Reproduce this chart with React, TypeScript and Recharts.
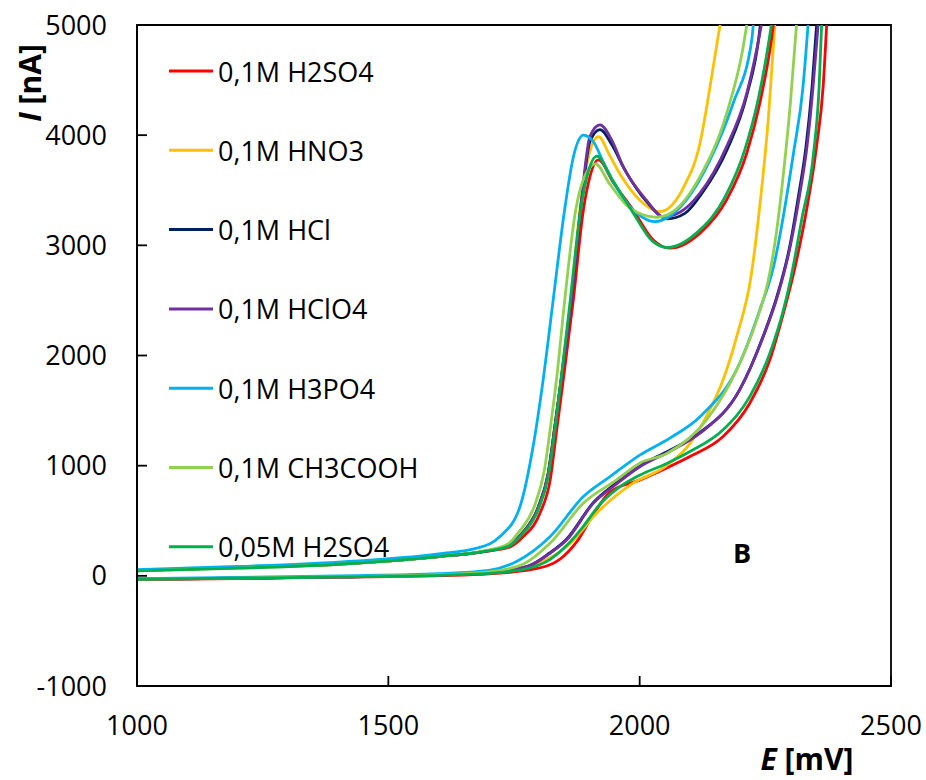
import React from "react";
import { LineChart, Line, XAxis, YAxis, ReferenceArea } from "recharts";

type Pt = [number, number];

// Potential ticks (mV) and current ticks (nA)
const X_TICKS = [1000, 1500, 2000, 2500];
const Y_TICKS = [-1000, 0, 1000, 2000, 3000, 4000, 5000];

// 0,1M H2SO4
const H2SO4_FWD: Pt[] = [[1000,-35],[1200,-25],[1400,-12],[1600,2],[1700,18],[1788,60],[1841,150],[1875,310],[1908,560],[1941,760],[2001,871],[2054,980],[2100,1083],[2166,1264],[2219,1567],[2259,1960],[2286,2384],[2309,2800],[2332,3320],[2352,3900],[2365,4440],[2372,5000]];
const H2SO4_REV: Pt[] = [[1000,50],[1200,75],[1400,105],[1600,175],[1688,218],[1742,263],[1768,354],[1802,572],[1822,871],[1835,1325],[1848,1779],[1868,2505],[1888,3321],[1898,3566],[1918,3775],[1948,3566],[1987,3321],[2027,3049],[2060,2974],[2120,3110],[2173,3412],[2213,3836],[2239,4290],[2262,4864],[2266,5000]];

// 0,1M HNO3
const HNO3_FWD: Pt[] = [[1000,-30],[1200,-20],[1400,-8],[1600,8],[1700,28],[1790,100],[1855,266],[1921,599],[1987,841],[2050,990],[2100,1200],[2133,1450],[2166,1779],[2193,2172],[2222,2730],[2240,3400],[2256,4150],[2269,5000]];
const HNO3_REV: Pt[] = [[1000,50],[1200,75],[1400,108],[1600,175],[1688,220],[1740,275],[1765,380],[1798,620],[1818,930],[1832,1380],[1845,1820],[1863,2505],[1882,3350],[1898,3800],[1918,3987],[1940,3820],[1960,3654],[2000,3412],[2040,3306],[2088,3533],[2120,3926],[2140,4440],[2156,4894],[2160,5000]];

// 0,1M HCl
const HCL_FWD: Pt[] = [[1000,-30],[1200,-22],[1400,-10],[1600,8],[1700,28],[1780,92],[1820,205],[1855,335],[1908,665],[1950,830],[2001,1000],[2060,1140],[2120,1300],[2199,1690],[2246,2180],[2274,2550],[2299,3000],[2316,3450],[2331,3900],[2343,4440],[2352,5000]];
const HCL_REV: Pt[] = [[1000,50],[1200,75],[1400,108],[1600,175],[1688,220],[1740,275],[1765,380],[1798,620],[1818,930],[1832,1380],[1845,1820],[1864,2505],[1884,3380],[1901,3940],[1921,4050],[1945,3910],[1970,3690],[2015,3390],[2055,3240],[2090,3290],[2125,3480],[2175,3880],[2213,4360],[2238,4920],[2240,5000]];

// 0,1M HClO4
const HCLO4_FWD: Pt[] = [[1000,-30],[1200,-22],[1400,-10],[1600,8],[1700,28],[1780,90],[1820,200],[1855,327],[1908,660],[1950,820],[2001,992],[2060,1130],[2120,1294],[2199,1688],[2246,2172],[2275,2550],[2300,3000],[2318,3450],[2333,3900],[2345,4440],[2355,5000]];
const HCLO4_REV: Pt[] = [[1000,50],[1200,75],[1400,108],[1600,175],[1688,220],[1740,275],[1765,380],[1798,620],[1818,930],[1832,1380],[1845,1820],[1864,2505],[1884,3400],[1901,3987],[1921,4093],[1945,3950],[1967,3716],[2013,3412],[2047,3260],[2080,3300],[2120,3473],[2173,3896],[2213,4380],[2239,4924],[2242,5000]];

// 0,1M H3PO4
const H3PO4_FWD: Pt[] = [[1000,-25],[1200,-15],[1400,0],[1600,20],[1700,50],[1755,130],[1822,357],[1888,720],[1941,901],[2001,1098],[2060,1250],[2120,1445],[2199,1930],[2239,2414],[2266,2800],[2306,3836],[2325,4440],[2335,5000]];
const H3PO4_REV: Pt[] = [[1000,55],[1200,85],[1400,125],[1600,200],[1676,251],[1722,357],[1762,629],[1788,1173],[1808,1779],[1828,2505],[1850,3300],[1868,3800],[1888,4000],[1908,3940],[1930,3730],[1960,3480],[1995,3290],[2030,3215],[2093,3412],[2140,3775],[2186,4290],[2223,4864],[2226,5000]];

// 0,1M CH3COOH
const CH3COOH_FWD: Pt[] = [[1000,-30],[1200,-20],[1400,-8],[1600,10],[1700,35],[1770,110],[1822,297],[1888,660],[1954,871],[2001,1025],[2054,1110],[2133,1416],[2193,1869],[2233,2323],[2256,2686],[2270,3050],[2286,3650],[2300,4300],[2312,5000]];
const CH3COOH_REV: Pt[] = [[1000,45],[1200,70],[1400,105],[1600,175],[1688,225],[1738,290],[1760,400],[1792,650],[1810,950],[1824,1400],[1835,1800],[1851,2505],[1872,3300],[1890,3620],[1912,3740],[1940,3560],[1980,3340],[2034,3255],[2080,3360],[2120,3624],[2173,4198],[2206,4803],[2213,5000]];

// 0,05M H2SO4
const H2SO4_005_FWD: Pt[] = [[1000,-30],[1200,-22],[1400,-10],[1600,5],[1700,22],[1780,70],[1822,150],[1860,300],[1888,450],[1921,650],[1955,790],[2001,916],[2054,1020],[2100,1128],[2166,1325],[2219,1627],[2259,2021],[2286,2414],[2300,2686],[2323,3250],[2346,3836],[2357,4440],[2362,5000]];
const H2SO4_005_REV: Pt[] = [[1000,45],[1200,70],[1400,105],[1600,175],[1688,220],[1740,270],[1765,370],[1798,600],[1818,900],[1832,1350],[1844,1800],[1862,2505],[1882,3300],[1895,3620],[1915,3810],[1945,3600],[1985,3310],[2025,3040],[2055,2980],[2115,3120],[2170,3440],[2210,3880],[2236,4330],[2258,4880],[2262,5000]];

const SERIES_NAMES = ["0,1M H2SO4", "0,1M HNO3", "0,1M HCl", "0,1M HClO4", "0,1M H3PO4", "0,1M CH3COOH", "0,05M H2SO4"];
const SERIES_COLORS = ["#FF0000", "#FFC000", "#002060", "#7030A0", "#00B0F0", "#92D050", "#00B050"];
const SERIES_FWD = [H2SO4_FWD, HNO3_FWD, HCL_FWD, HCLO4_FWD, H3PO4_FWD, CH3COOH_FWD, H2SO4_005_FWD];
const SERIES_REV = [H2SO4_REV, HNO3_REV, HCL_REV, HCLO4_REV, H3PO4_REV, CH3COOH_REV, H2SO4_005_REV];

const FONT = "'Open Sans', 'Noto Sans', sans-serif";

const toObj = (pts: Pt[]) => pts.map(([x, y]) => ({ x, y }));

export default function App() {
  return (
    <div style={{ position: "absolute", left: 0, top: 0, width: 926, height: 780, background: "#fff", fontFamily: FONT }}>
      <LineChart width={926} height={780} margin={{ top: 25, right: 35, left: 77, bottom: 64 }}>
        <XAxis
          dataKey="x"
          type="number"
          domain={[1000, 2500]}
          ticks={X_TICKS}
          allowDataOverflow
          height={30}
          tickSize={-10}
          tickMargin={40}
          axisLine={{ stroke: "#000", strokeWidth: 1.8 }}
          tickLine={{ stroke: "#000", strokeWidth: 1.8 }}
          tick={{ fill: "#000", fontSize: 27, fontFamily: FONT }}
        />
        <YAxis
          dataKey="y"
          type="number"
          domain={[-1000, 5000]}
          ticks={Y_TICKS}
          allowDataOverflow
          width={60}
          tickSize={-10}
          tickMargin={40}
          axisLine={{ stroke: "#000", strokeWidth: 1.8 }}
          tickLine={{ stroke: "#000", strokeWidth: 1.8 }}
          tick={{ fill: "#000", fontSize: 27, fontFamily: FONT }}
        />
        <ReferenceArea x1={1000} x2={2500} y1={-1000} y2={5000} fill="none" stroke="#000" strokeWidth={1.8} fillOpacity={0} />
        {SERIES_NAMES.map((name, i) => (
          <Line
            key={name + "-f"}
            data={toObj(SERIES_FWD[i])}
            dataKey="y"
            name={name}
            type="monotone"
            stroke={SERIES_COLORS[i]}
            strokeWidth={2.8}
            dot={false}
            activeDot={false}
            isAnimationActive={false}
            legendType="none"
          />
        ))}
        {SERIES_NAMES.map((name, i) => (
          <Line
            key={name + "-r"}
            data={toObj(SERIES_REV[i])}
            dataKey="y"
            name={name + " "}
            type="monotone"
            stroke={SERIES_COLORS[i]}
            strokeWidth={2.8}
            dot={false}
            activeDot={false}
            isAnimationActive={false}
            legendType="none"
          />
        ))}
      </LineChart>
      <svg width={926} height={780} style={{ position: "absolute", left: 0, top: 0, pointerEvents: "none" }}>
        {SERIES_NAMES.map((name, i) => {
          const cy = 71 + i * 79.3;
          return (
            <g key={name}>
              <line x1={169} x2={213} y1={cy} y2={cy} stroke={SERIES_COLORS[i]} strokeWidth={3} />
              <text x={218} y={cy} dominantBaseline="central" fontSize={27} fontFamily={FONT} fill="#000">{name}</text>
            </g>
          );
        })}
        <text x={41} y={83} transform="rotate(-90 41 83)" textAnchor="middle" fontSize={30} fontWeight="bold" fontFamily={FONT} fill="#000">
          <tspan fontStyle="italic">I</tspan> [nA]
        </text>
        <text x={807} y={770} textAnchor="middle" fontSize={30} fontWeight="bold" fontFamily={FONT} fill="#000">
          <tspan fontStyle="italic">E</tspan> [mV]
        </text>
        <text x={742} y={563} textAnchor="middle" fontSize={27} fontWeight="bold" fontFamily={FONT} fill="#000">B</text>
      </svg>
    </div>
  );
}
